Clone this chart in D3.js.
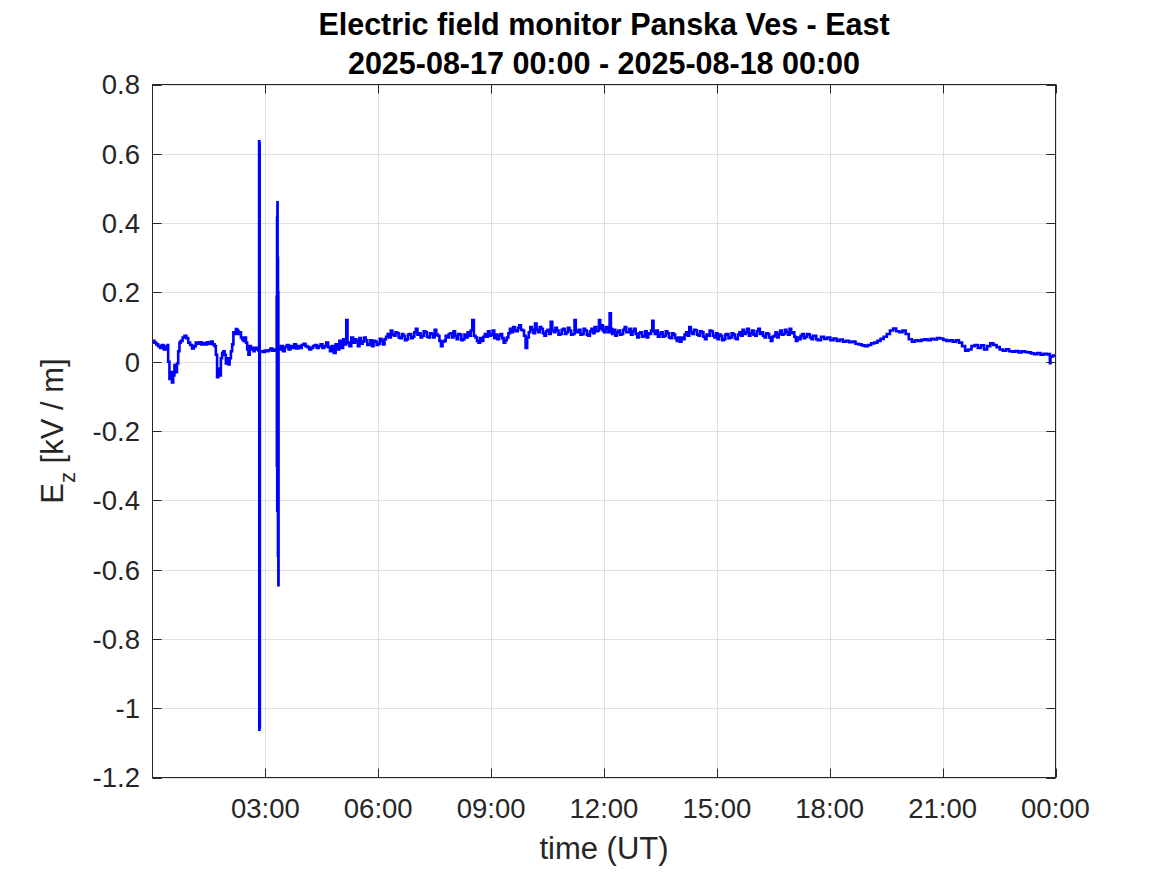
<!DOCTYPE html>
<html>
<head>
<meta charset="utf-8">
<script src="https://cdn.jsdelivr.net/npm/d3@7"></script>
<style>
  body { margin: 0; background: #fff; }
  svg { display: block; font-family: "Liberation Sans", Arial, sans-serif; }
</style>
</head>
<body>
<svg width="1167" height="875"></svg>
<script>
// titles and labels
const titleLines = [
  "Electric field monitor Panska Ves - East",
  "2025-08-17 00:00 - 2025-08-18 00:00"
];
const xLabel = "time (UT)";

// x ticks in minutes after 2025-08-17 00:00 UT, and their labels
const xTickMinutes = [180, 360, 540, 720, 900, 1080, 1260, 1440];
const xTickLabels = ["03:00", "06:00", "09:00", "12:00", "15:00", "18:00", "21:00", "00:00"];
const yTicks = [0.8, 0.6, 0.4, 0.2, 0, -0.2, -0.4, -0.6, -0.8, -1, -1.2];

// Ez samples: [minutes after 00:00 UT, kV/m]
const ezSamples = [
  [0, 0.060], [3, 0.055], [6, 0.050], [9, 0.045], [12, 0.040], [15, 0.048], [18, 0.035],
  [21, 0.044], [24, 0.048], [25, 0.000], [27, -0.050], [29, -0.030], [31, -0.060],
  [33, -0.040], [35, -0.010], [37, -0.030], [39, -0.005], [41, 0.030], [43, 0.055],
  [45, 0.060], [48, 0.070], [51, 0.075], [54, 0.068], [57, 0.055], [60, 0.048],
  [63, 0.038], [66, 0.045], [69, 0.055], [72, 0.052], [75, 0.056], [78, 0.050],
  [81, 0.054], [84, 0.050], [87, 0.056], [90, 0.052], [93, 0.058], [96, 0.050],
  [99, 0.045], [101, 0.020], [103, -0.045], [105, -0.020], [107, -0.040], [109, 0.010],
  [111, 0.025], [113, 0.030], [115, 0.020], [117, -0.005], [119, 0.010], [121, -0.008],
  [123, 0.010], [125, 0.030], [127, 0.050], [129, 0.085], [131, 0.080], [133, 0.094],
  [135, 0.090], [137, 0.080], [139, 0.085], [141, 0.070], [143, 0.065], [145, 0.060],
  [147, 0.070], [149, 0.055], [151, 0.035], [153, 0.020], [155, 0.045], [157, 0.035],
  [159, 0.040], [161, 0.030], [163, 0.040], [165, 0.035], [167, 0.040], [169, 0.032],
  [170, 0.636], [170.3, -1.062], [170.6, 0.630], [170.9, -1.055], [171.2, 0.030],
  [173, 0.030], [176, 0.028], [179, 0.032], [182, 0.030], [185, 0.033], [188, 0.038],
  [191, 0.032], [194, 0.035], [197, 0.034], [198, 0.187], [198.3, -0.300], [198.6, 0.416],
  [198.9, -0.431], [199.2, 0.460], [199.5, -0.430], [199.8, 0.300], [200.1, -0.560],
  [200.4, 0.200], [200.7, -0.645], [201, 0.040], [203, 0.035],
  [205, 0.045], [208, 0.030], [211, 0.042], [214, 0.048], [217, 0.035], [220, 0.045],
  [223, 0.040], [226, 0.050], [229, 0.038], [232, 0.045], [235, 0.040], [238, 0.048],
  [241, 0.052], [244, 0.045], [247, 0.042], [250, 0.035], [253, 0.040], [256, 0.045],
  [259, 0.048], [262, 0.040], [265, 0.045], [268, 0.050], [271, 0.040], [274, 0.045],
  [277, 0.055], [280, 0.042], [283, 0.030], [286, 0.045], [289, 0.025], [292, 0.050],
  [295, 0.035], [298, 0.060], [301, 0.040], [304, 0.065], [307, 0.050], [309, 0.120],
  [311, 0.055], [314, 0.045], [317, 0.070], [320, 0.055], [323, 0.065],
  [325, 0.060], [327.5, 0.045], [330, 0.068], [332.5, 0.052], [335, 0.058], [337.5, 0.070],
  [340, 0.062], [342.5, 0.048], [345, 0.050], [347.5, 0.062], [350, 0.045], [352.5, 0.060],
  [355, 0.058], [357.5, 0.048], [360, 0.052], [362.5, 0.066], [365, 0.060], [367.5, 0.050],
  [370, 0.065], [372.5, 0.072], [375, 0.080], [377.5, 0.070], [380, 0.090], [382.5, 0.078],
  [385, 0.075], [387.5, 0.085], [390, 0.082], [392.5, 0.070], [395, 0.068], [397.5, 0.080],
  [400, 0.075], [402.5, 0.062], [405, 0.065], [407.5, 0.078], [410, 0.080], [412.5, 0.068],
  [415, 0.072], [417.5, 0.085], [420, 0.095], [422.5, 0.078], [425, 0.082], [427.5, 0.070],
  [430, 0.075], [432.5, 0.088], [435, 0.085], [437.5, 0.072], [440, 0.070], [442.5, 0.082],
  [445, 0.080], [447.5, 0.070], [450, 0.092], [452.5, 0.078], [455, 0.075], [457.5, 0.060],
  [460, 0.045], [462.5, 0.058], [465, 0.060], [467.5, 0.075], [470, 0.070], [472.5, 0.080],
  [475, 0.082], [477.5, 0.070], [480, 0.088], [482.5, 0.075], [485, 0.065], [487.5, 0.080],
  [490, 0.078], [492.5, 0.062], [495, 0.065], [497.5, 0.078], [500, 0.070], [502.5, 0.085],
  [505, 0.075], [507.5, 0.090], [510, 0.120], [512.5, 0.075], [515, 0.070], [517.5, 0.060],
  [520, 0.055], [522.5, 0.068], [525, 0.060], [527.5, 0.072], [530, 0.080], [532.5, 0.072],
  [535, 0.088], [537.5, 0.075], [540, 0.078], [542.5, 0.090], [545, 0.068], [547.5, 0.078],
  [550, 0.065], [552.5, 0.075], [555, 0.080], [557.5, 0.068], [560, 0.055], [562.5, 0.062],
  [565, 0.070], [567.5, 0.082], [570, 0.095], [572.5, 0.085], [575, 0.100], [577.5, 0.090],
  [580, 0.088], [582.5, 0.098], [585, 0.105], [587.5, 0.092], [590, 0.090], [592.5, 0.075],
  [595, 0.040], [597.5, 0.070], [600, 0.085], [602.5, 0.100], [605, 0.092], [607.5, 0.082],
  [610, 0.110], [612.5, 0.092], [615, 0.085], [617.5, 0.100], [620, 0.095], [622.5, 0.082],
  [625, 0.075], [627.5, 0.088], [630, 0.092], [632.5, 0.080], [635, 0.115], [637.5, 0.090],
  [640, 0.085], [642.5, 0.098], [645, 0.090], [647.5, 0.078], [650, 0.080], [652.5, 0.092],
  [655, 0.095], [657.5, 0.080], [660, 0.085], [662.5, 0.098], [665, 0.090], [667.5, 0.078],
  [670, 0.080], [673, 0.120], [675, 0.090], [677, 0.085], [680, 0.092], [682.5, 0.078],
  [685, 0.080], [687.5, 0.095], [690, 0.090], [692.5, 0.078], [695, 0.075], [697.5, 0.088],
  [700, 0.095], [702.5, 0.082], [705, 0.100], [707.5, 0.088], [710, 0.090], [712, 0.120],
  [714, 0.095], [716, 0.105], [718, 0.090], [720, 0.085], [722.5, 0.100], [725, 0.095],
  [727, 0.085], [729, 0.140], [731, 0.095], [733, 0.080], [735.5, 0.092], [738, 0.075],
  [740.5, 0.085], [743, 0.090], [745.5, 0.078], [748, 0.080], [750.5, 0.092], [753, 0.100],
  [755.5, 0.085], [758, 0.085], [760.5, 0.095], [763, 0.078], [765.5, 0.088], [768, 0.095],
  [770.5, 0.080], [773, 0.070], [775.5, 0.082], [778, 0.085], [780.5, 0.072], [783, 0.075],
  [785.5, 0.088], [788, 0.070], [790.5, 0.082], [793, 0.080], [795, 0.090], [797, 0.118],
  [799, 0.088], [801, 0.080], [803.5, 0.090], [806, 0.072], [808.5, 0.080], [811, 0.085],
  [813.5, 0.072], [816, 0.075], [818.5, 0.088], [821, 0.082], [823.5, 0.070], [826, 0.068],
  [828.5, 0.082], [831, 0.078], [833.5, 0.068], [836, 0.060], [838.5, 0.070], [841, 0.058],
  [843.5, 0.070], [846, 0.065], [848.5, 0.078], [851, 0.085], [853.5, 0.075], [856, 0.100],
  [858.5, 0.085], [861, 0.080], [863.5, 0.092], [866, 0.090], [868.5, 0.078], [871, 0.075],
  [873.5, 0.088], [876, 0.085], [878.5, 0.072], [881, 0.065], [883.5, 0.078], [886, 0.075],
  [888.5, 0.090], [891, 0.088], [893.5, 0.075], [896, 0.070], [898.5, 0.082], [901, 0.065],
  [903.5, 0.078], [906, 0.075], [908.5, 0.062], [911, 0.065], [913.5, 0.078], [916, 0.080],
  [918.5, 0.068], [921, 0.070], [923.5, 0.082], [926, 0.078], [928.5, 0.068], [931, 0.065],
  [933.5, 0.078], [936, 0.085], [938.5, 0.075], [941, 0.092], [943.5, 0.080], [946, 0.085],
  [948.5, 0.095], [951, 0.075], [953.5, 0.082], [956, 0.090], [958.5, 0.078], [961, 0.075],
  [963.5, 0.088], [966, 0.095], [968.5, 0.080], [971, 0.085], [973.5, 0.075], [976, 0.070],
  [978.5, 0.082], [981, 0.080], [983.5, 0.070], [986, 0.060], [988.5, 0.072], [991, 0.075],
  [993.5, 0.085], [996, 0.070], [998.5, 0.080], [1001, 0.090], [1003.5, 0.078], [1006, 0.080],
  [1008.5, 0.092], [1011, 0.085], [1013.5, 0.078], [1016, 0.095], [1018.5, 0.082], [1021, 0.085],
  [1023.5, 0.072], [1026, 0.060], [1028.5, 0.070], [1031, 0.065], [1033.5, 0.075], [1036, 0.080],
  [1038.5, 0.068], [1041, 0.072], [1043.5, 0.080], [1046, 0.078], [1048.5, 0.070], [1051, 0.065],
  [1053.5, 0.075], [1056, 0.075], [1058.5, 0.065], [1061, 0.062],
  [1066, 0.072], [1071, 0.066], [1076, 0.070], [1081, 0.062], [1086, 0.067],
  [1091, 0.060], [1096, 0.064], [1101, 0.058], [1106, 0.060], [1111, 0.056], [1116, 0.058],
  [1121, 0.052], [1126, 0.050], [1131, 0.047], [1136, 0.045], [1141, 0.048], [1146, 0.053],
  [1151, 0.055], [1156, 0.060], [1161, 0.066], [1166, 0.072], [1171, 0.080], [1176, 0.090],
  [1181, 0.096], [1186, 0.088], [1191, 0.085], [1196, 0.090], [1201, 0.080], [1206, 0.065],
  [1211, 0.058], [1216, 0.062], [1221, 0.060], [1226, 0.063], [1231, 0.065], [1236, 0.062],
  [1241, 0.066], [1246, 0.064], [1251, 0.068], [1256, 0.067], [1261, 0.063], [1266, 0.060],
  [1271, 0.062], [1276, 0.058], [1281, 0.062], [1286, 0.055], [1291, 0.045], [1296, 0.032],
  [1301, 0.035], [1306, 0.045], [1311, 0.048], [1316, 0.040], [1321, 0.047], [1326, 0.035],
  [1331, 0.045], [1336, 0.053], [1341, 0.048], [1346, 0.042], [1351, 0.035], [1356, 0.032],
  [1361, 0.036], [1366, 0.030], [1371, 0.029], [1376, 0.031], [1381, 0.027], [1386, 0.030],
  [1391, 0.028], [1396, 0.027], [1401, 0.024], [1406, 0.022], [1411, 0.025], [1416, 0.020],
  [1421, 0.023], [1426, 0.021], [1429, 0.022], [1431, -0.004], [1432, 0.015], [1436, 0.018],
  [1440, 0.020]
];

const svg = d3.select("svg");
const axisColor = "#262626";

const plot = { left: 152.5, right: 1055.5, top: 84.5, bottom: 777.5 };

const x = d3.scaleLinear()
  .domain([0, 1440])
  .range([plot.left, plot.right]);

const y = d3.scaleLinear()
  .domain([-1.2, 0.8])
  .range([plot.bottom, plot.top]);

svg.append("rect")
  .attr("width", 1167)
  .attr("height", 875)
  .attr("fill", "#fff");

// grid
const grid = svg.append("g").attr("stroke", "#dfdfdf").attr("stroke-width", 1);

grid.selectAll("line.vgrid")
  .data(xTickMinutes)
  .join("line")
  .attr("class", "vgrid")
  .attr("x1", d => Math.round(x(d)) + 0.5)
  .attr("x2", d => Math.round(x(d)) + 0.5)
  .attr("y1", plot.top)
  .attr("y2", plot.bottom);

grid.selectAll("line.hgrid")
  .data(yTicks)
  .join("line")
  .attr("class", "hgrid")
  .attr("x1", plot.left)
  .attr("x2", plot.right)
  .attr("y1", d => Math.round(y(d)) + 0.5)
  .attr("y2", d => Math.round(y(d)) + 0.5);

// data line
svg.append("clipPath")
  .attr("id", "clip")
  .append("rect")
  .attr("x", plot.left)
  .attr("y", plot.top)
  .attr("width", plot.right - plot.left)
  .attr("height", plot.bottom - plot.top);

const line = d3.line()
  .curve(d3.curveStepAfter)
  .x(d => x(d[0]))
  .y(d => y(d[1]));

svg.append("path")
  .datum(ezSamples)
  .attr("clip-path", "url(#clip)")
  .attr("fill", "none")
  .attr("stroke", "#0000ff")
  .attr("stroke-width", 2.6)
  .attr("d", line);

// box and inward ticks on all sides
const tickLen = 9;
const axes = svg.append("g").attr("stroke", axisColor).attr("stroke-width", 1);

axes.append("rect")
  .attr("x", plot.left)
  .attr("y", plot.top)
  .attr("width", plot.right - plot.left)
  .attr("height", plot.bottom - plot.top)
  .attr("fill", "none");

xTickMinutes.forEach(m => {
  const px = Math.round(x(m)) + 0.5;
  axes.append("line").attr("x1", px).attr("x2", px)
    .attr("y1", plot.bottom).attr("y2", plot.bottom - tickLen);
  axes.append("line").attr("x1", px).attr("x2", px)
    .attr("y1", plot.top).attr("y2", plot.top + tickLen);
});

yTicks.forEach(v => {
  const py = Math.round(y(v)) + 0.5;
  axes.append("line").attr("x1", plot.left).attr("x2", plot.left + tickLen)
    .attr("y1", py).attr("y2", py);
  axes.append("line").attr("x1", plot.right).attr("x2", plot.right - tickLen)
    .attr("y1", py).attr("y2", py);
});

// tick labels
svg.append("g")
  .selectAll("text")
  .data(xTickMinutes)
  .join("text")
  .attr("x", d => x(d))
  .attr("y", 818)
  .attr("text-anchor", "middle")
  .attr("font-size", 27.5)
  .attr("fill", axisColor)
  .text((d, i) => xTickLabels[i]);

svg.append("g")
  .selectAll("text")
  .data(yTicks)
  .join("text")
  .attr("x", 140)
  .attr("y", d => y(d))
  .attr("dy", "0.36em")
  .attr("text-anchor", "end")
  .attr("font-size", 27.5)
  .attr("fill", axisColor)
  .text(d => String(d));

// axis labels
svg.append("text")
  .attr("x", (plot.left + plot.right) / 2)
  .attr("y", 859)
  .attr("text-anchor", "middle")
  .attr("font-size", 31)
  .attr("fill", axisColor)
  .text(xLabel);

const yLab = svg.append("text")
  .attr("transform", `translate(63, ${(plot.top + plot.bottom) / 2}) rotate(-90)`)
  .attr("text-anchor", "middle")
  .attr("font-size", 31)
  .attr("fill", axisColor);
yLab.append("tspan").text("E");
yLab.append("tspan").attr("font-size", 22).attr("dy", 12).text("z");
yLab.append("tspan").attr("dy", -12).text(" [kV / m]");

// title
svg.append("g")
  .selectAll("text")
  .data(titleLines)
  .join("text")
  .attr("x", (plot.left + plot.right) / 2)
  .attr("y", (d, i) => 35 + i * 39)
  .attr("text-anchor", "middle")
  .attr("font-size", 30.5)
  .attr("font-weight", "bold")
  .attr("fill", "#000")
  .text(d => d);
</script>
</body>
</html>
